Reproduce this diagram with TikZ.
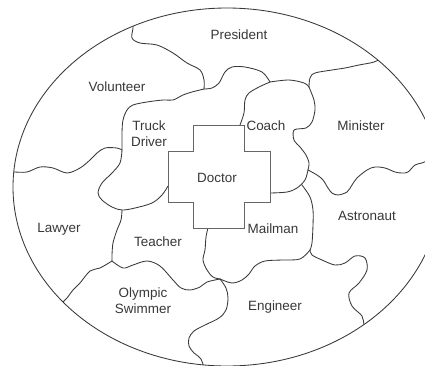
\documentclass[tikz,border=0pt]{standalone}
\usepackage{fontspec}
\setmainfont{Liberation Sans}
\begin{document}
\begin{tikzpicture}[x=1bp,y=-1bp,
  bound/.style={draw=black!78, line width=0.85bp, line join=round, line cap=round},
  crossline/.style={draw=black!60, line width=0.7bp},
  lbl/.style={font=\fontsize{13.5}{16}\selectfont, text=black!78, align=center, inner sep=0pt}]
\useasboundingbox (0,0) rectangle (425,366);
\clip (0,0) rectangle (425,366);
\fill[white] (0,0) rectangle (425,366);
\begin{scope}
\clip (227,187) ellipse [x radius=214, y radius=179];
% President / Volunteer
\draw[bound] plot[smooth, tension=0.55] coordinates {(133,18) (133,28) (132,38) (140,43) (157,45) (173,53) (187,63) (200,70) (204,80) (204,89)};
% Truck Driver top bump
\draw[bound] plot[smooth, tension=0.55] coordinates {(204,89) (212,88) (219,83) (225,72) (232,67) (245,67) (262,72) (270,82)};
% Coach top
\draw[bound] plot[smooth, tension=0.55] coordinates {(270,82) (289,80) (304,83) (309,87)};
% Minister / President
\draw[bound] plot[smooth, tension=0.55] coordinates {(309,87) (310,78) (315,73) (332,70) (345,68) (359,65) (374,62) (384,57)};
% Coach left
\draw[bound] plot[smooth, tension=0.55] coordinates {(270,82) (259,87) (249,93) (245,100) (244,113) (240,125)};
% Coach right
\draw[bound] plot[smooth, tension=0.5] coordinates {(309,87) (314,100) (315,110) (312,122) (306,128) (294,130) (294,140) (300,147) (306,155) (309,163) (308,170)};
\draw[bound] plot[smooth, tension=0.55] coordinates {(308,170) (305,180) (297,188) (287,192) (270,193)};
% Minister / Astronaut
\draw[bound] plot[smooth, tension=0.55] coordinates {(308,170) (317,175) (323,180) (328,188) (332,193) (338,195) (347,192) (352,185) (357,178) (367,170) (375,167) (385,168) (395,172) (402,173) (408,172) (415,165) (422,163) (430,160) (446,158)};
% Mailman right
\draw[bound] plot[smooth, tension=0.55] coordinates {(302,185) (310,197) (313,210) (313,225) (312,243) (310,250)};
% Engineer / Astronaut
\draw[bound] plot[smooth, tension=0.55] coordinates {(310,250) (312,255) (322,260) (335,265) (345,263) (355,256) (365,258) (367,270) (359,283) (349,293) (352,306) (362,316) (364,325) (367,333)};
% Mailman / Engineer
\draw[bound] plot[smooth, tension=0.55] coordinates {(310,250) (300,259) (282,260) (265,261) (255,266) (249,274) (242,280) (232,283) (220,279)};
% Teacher / Mailman
\draw[bound] plot[smooth, tension=0.55] coordinates {(208,228) (206,237) (205,250) (203,260) (207,270) (213,277) (220,279)};
% Teacher bottom
\draw[bound] plot[smooth, tension=0.55] coordinates {(112,261) (123,268) (133,265) (147,261) (160,266) (173,280) (181,288) (190,290) (200,287) (207,282) (220,279)};
% Olympic / Engineer
\draw[bound] plot[smooth, tension=0.55] coordinates {(220,279) (226,288) (228,298) (226,310) (219,318) (205,325) (194,331) (189,338) (189,346) (194,353) (201,359) (205,372)};
% Lawyer / Olympic
\draw[bound] plot[smooth, tension=0.55] coordinates {(112,261) (100,268) (90,271) (80,283) (73,290) (67,298) (62,303) (55,311)};
% Teacher left
\draw[bound] plot[smooth, tension=0.55] coordinates {(122,210) (121,220) (117,230) (113,243) (112,255) (112,261)};
% Truck Driver bulge
\draw[bound] plot[smooth, tension=0.55] coordinates {(122,150) (120,163) (112,173) (102,183) (98,193) (102,200) (112,207) (122,210) (135,208) (152,203) (162,195) (168,186)};
% Volunteer / Lawyer
\draw[bound] plot[smooth, tension=0.55] coordinates {(5,172) (14,172) (27,172) (40,167) (53,168) (67,173) (80,168) (90,160) (97,153) (105,148) (117,148) (122,150)};
% Truck Driver left / top
\draw[bound] plot[smooth, tension=0.55] coordinates {(122,150) (122,133) (123,120) (127,110) (133,105) (147,102) (163,100) (173,100) (183,95) (192,92) (204,89)};
\end{scope}
% outer ellipse
\draw[bound] (227,187) ellipse [x radius=214, y radius=179];
% Doctor cross
\draw[crossline, fill=white] (193,125) -- (244,125) -- (244,151) -- (270,151) -- (270,202) -- (244,202) -- (244,228) -- (193,228) -- (193,202) -- (168,202) -- (168,151) -- (193,151) -- cycle;
% labels
\node[lbl] (president) at (239,35) {President};
\node[lbl] (volunteer) at (117,87) {Volunteer};
\node[lbl] (truck) at (149,134) {Truck\\Driver};
\node[lbl] (coach) at (266,126) {Coach};
\node[lbl] (minister) at (361,126) {Minister};
\node[lbl] (doctor) at (217,178) {Doctor};
\node[lbl] (lawyer) at (59,229) {Lawyer};
\node[lbl] (teacher) at (158,242) {Teacher};
\node[lbl] (mailman) at (273,229) {Mailman};
\node[lbl] (astronaut) at (367,216) {Astronaut};
\node[lbl] (olympic) at (143,301) {Olympic\\Swimmer};
\node[lbl] (engineer) at (275,307) {Engineer};
\end{tikzpicture}
\end{document}
